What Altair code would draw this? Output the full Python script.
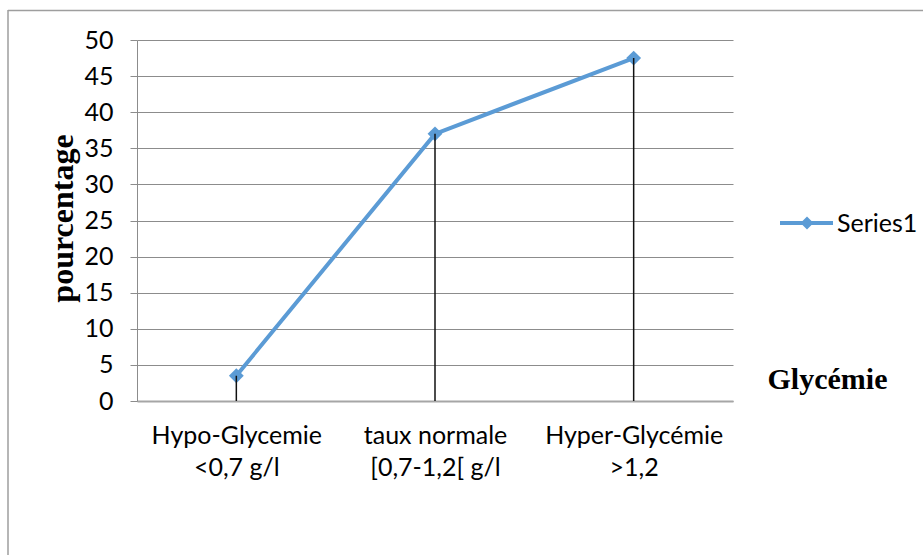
import altair as alt
import pandas as pd

# Data
categories = ["Hypo-Glycemie|<0,7 g/l", "taux normale|[0,7-1,2[ g/l", "Hyper-Glycémie|>1,2"]
pourcentage = [3.5, 37, 47.5]
series_name = "Series1"
y_ticks = list(range(0, 55, 5))

df = pd.DataFrame({"glycemie": categories, "pourcentage": pourcentage})
one = pd.DataFrame({"k": [0]})

BLUE = "#5B9BD5"
GRID = "#8C8C8C"
LABEL_FONT = "Lato"
TITLE_FONT = "Liberation Serif"
LABEL_SIZE = 25
W, H = 596, 361

x_enc = alt.X(
    "glycemie:N",
    sort=categories,
    scale=alt.Scale(type="point", padding=0.5, domain=categories),
    axis=alt.Axis(
        title="Glycémie",
        titleFont=TITLE_FONT,
        titleFontSize=30,
        titleFontWeight="bold",
        titleColor="black",
        titleX=690,
        titleY=-13,
        titleAlign="center",
        titleBaseline="alphabetic",
        titleAngle=0,
        labelExpr="split(datum.label, '|')",
        labelFont=LABEL_FONT,
        labelFontSize=LABEL_SIZE,
        labelColor="black",
        labelAngle=0,
        labelPadding=22,
        labelLineHeight=32,
        labelOverlap=False,
        ticks=False,
        grid=False,
        domainColor="#A6A6A6",
        domainWidth=2,
    ),
)

y_enc = alt.Y(
    "pourcentage:Q",
    scale=alt.Scale(domain=[0, 50], nice=False, zero=True),
    axis=alt.Axis(
        title="pourcentage",
        titleFont=TITLE_FONT,
        titleFontSize=32,
        titleFontWeight="bold",
        titleColor="black",
        titleAngle=270,
        titleX=-75,
        titleY=178,
        titleAlign="center",
        titleBaseline="middle",
        values=y_ticks,
        tickCount=11,
        labelOverlap=False,
        labelFont=LABEL_FONT,
        labelFontSize=LABEL_SIZE,
        labelColor="black",
        labelPadding=17,
        tickSize=7,
        tickColor=GRID,
        domainColor=GRID,
        gridColor=GRID,
        gridWidth=1,
    ),
)

base = alt.Chart(df)

line = base.mark_line(color=BLUE, strokeWidth=4).encode(x=x_enc, y=y_enc)
points = base.mark_point(shape="diamond", filled=True, size=220, color=BLUE, opacity=1).encode(
    x=x_enc, y=y_enc
)
drops = base.mark_rule(color="#111111", strokeWidth=1.5).encode(
    x=x_enc, y=y_enc, y2=alt.datum(0)
)

# legend drawn by hand: line + diamond + name
leg_line = alt.Chart(one).mark_rule(color=BLUE, strokeWidth=4).encode(
    x=alt.value(643), x2=alt.value(696), y=alt.value(183)
)
leg_pt = alt.Chart(one).mark_point(shape="diamond", filled=True, size=170, color=BLUE, opacity=1).encode(
    x=alt.value(670), y=alt.value(183)
)
leg_txt = alt.Chart(one).mark_text(
    text=series_name, font=LABEL_FONT, fontSize=LABEL_SIZE, align="left", baseline="middle", color="black"
).encode(x=alt.value(700), y=alt.value(184))

# chart frame (top and left edges)
frame_top = alt.Chart(one).mark_rule(color="#9E9E9E", strokeWidth=1.5).encode(
    x=alt.value(-129), x2=alt.value(786), y=alt.value(-29.5)
)
frame_left = alt.Chart(one).mark_rule(color="#9E9E9E", strokeWidth=1.5).encode(
    x=alt.value(-129), y=alt.value(-30), y2=alt.value(515)
)

chart = (
    alt.layer(line, points, drops, frame_top, frame_left, leg_line, leg_pt, leg_txt)
    .properties(
        width=W,
        height=H,
        padding={"left": 137, "top": 40, "right": 190, "bottom": 154},
        autosize=alt.AutoSizeParams(type="none"),
        background="white",
    )
    .configure_view(stroke=None)
)

chart.save("out.html", embed_options={"renderer": "svg", "actions": False})
